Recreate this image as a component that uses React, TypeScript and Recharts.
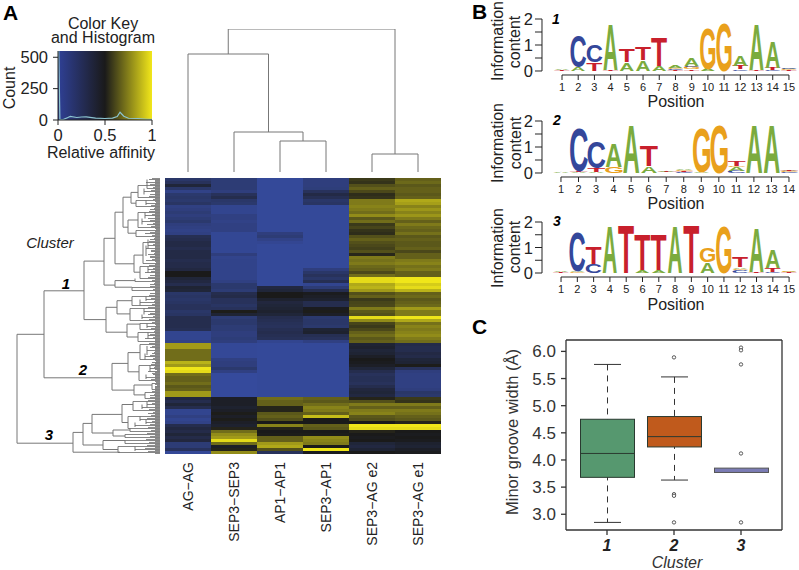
import { Bar, BarChart, Cell, ComposedChart, Line, LineChart, ReferenceArea, XAxis, YAxis } from 'recharts'

const font = '"Liberation Sans", Arial, sans-serif'
const ink = '#222'

// color key histogram
const keyBins = [0, 0.008, 0.02, 0.06, 0.1, 0.13, 0.2, 0.25, 0.3, 0.4, 0.5, 0.58, 0.63, 0.66, 0.7, 0.75, 0.85, 0.95, 1]
const keyCounts = [550, 550, 4, 5, 18, 28, 20, 24, 25, 15, 12, 15, 28, 62, 30, 14, 12, 6, 5]

// heatmap, top row first, relative affinity per row
const heatColumns = ['AG\u2212AG', 'SEP3\u2212SEP3', 'AP1\u2212AP1', 'SEP3\u2212AP1', 'SEP3\u2212AG e2', 'SEP3\u2212AG e1']
const agAg = [
  .2, .25, .38, .2, .08, .18, .2, .18, .22, .1, .12, .15, .12, .15, .18, .12, .1, .08, .1, .28, .3, .33, .33,
  .3, .33, .33, .33, .3, .32, .32, .35, .5, .5, .38, .35, .3, .4, .38, .2, .22, .2, .22, .25, .25, .2, .22,
  .3, .3, .3, .3, .28, .05, .05, .05, .08, .85, .85, .75, .75, .75, .75, .9, .85, 1, .98, .75, .72, .72, .75,
  .7, .72, .85, .85, .35, .3, .38, .3, .05, .05, .1, .05, .08, .3, .35, .32, .38, .32, .36, .15, .15, .25, .02,
]
const sep3Sep3 = [
  .15, .15, .15, .15, .12, .25, .3, .2, .18, .05, .05, .05, .1, .1, .08, .1, .1, .1, .03, .03, .03, .03, .03,
  .03, .03, .12, .06, .07, .07, .07, .07, .07, .07, .07, .1, .18, .18, .15, .3, .32, .25, .25, .22, .25, .52, .4,
  .15, .18, .18, .15, .15, .12, .12, .14, .12, .02, .02, .02, .02, .02, .1, .12, .12, .18, .1, 0, 0, 0, 0,
  0, 0, 0, 0, .45, .45, .45, .42, .45, .52, .45, .52, .45, .42, .55, .75, .82, .85, .98, .75, .45, .55, .82,
]
const ap1Ap1 = [
  .01, .01, .01, .01, .01, .01, .01, .01, .01, .01, .01, .01, .01, .01, .01, .01, .01, .01, .12, .15, .08, .04, .01,
  .01, .01, .01, .01, .01, .01, .01, .01, .01, .01, .01, .01, .01, .35, .38, .5, .5, .42, .36, .38, .4, .42, .38,
  .3, .28, .26, .25, .28, .3, .28, .26, .05, .01, .01, .01, .01, .01, .01, .01, .01, .01, .01, .01, .01, .01, .01,
  .01, .01, .01, .01, .75, .72, .72, .55, .55, .7, .72, .68, .5, .8, .55, .5, .52, .72, .72, .85, .88, .68, .25,
]
const sep3Ap1 = [
  .12, .12, .12, .13, .25, .33, .28, .2, .22, .01, .01, .01, .01, .01, .01, .01, .01, .01, .01, .01, .01, .01, .01,
  .01, .01, .01, .01, .01, .01, .01, .12, .2, .25, .2, .28, .05, .15, .3, .48, .45, .42, .3, .3, .48, .52, .45,
  .18, .2, .2, .18, .4, .42, .28, .25, .1, .01, .01, .01, .01, .01, .01, .01, .01, .01, .01, .01, .01, .01, .01,
  .01, .01, .01, .01, .72, .7, .75, .8, .78, .72, .92, .5, .5, .72, .7, .5, .52, .82, .8, .78, .5, 1, .48,
]
const sep3AgE2 = [
  .62, .6, .68, .72, .66, .58, .6, .78, .78, .8, .78, .75, .82, .7, .75, .62, .65, .6, .58, .68, .72, .68, .66,
  .64, .68, .56, .78, .76, .78, .74, .72, .66, .75, .98, .98, .88, .9, .85, .68, .72, .62, .65, .66, .78, .7, .68,
  .98, .82, .65, .62, .66, .72, .75, .7, .72, .4, .42, .38, .4, .45, .5, .48, .45, .38, .3, .25, .27, .27, .25,
  .3, .36, .38, .35, .55, .68, .78, .72, .78, .8, .7, .68, .5, 1, .98, .55, .5, .48, .5, .38, .35, .4, .5,
]
const sep3AgE1 = [
  .72, .74, .7, .72, .72, .7, .72, .88, .86, .8, .84, .8, .84, .78, .72, .78, .74, .72, .76, .7, .72, .7, .7,
  .72, .66, .72, .72, .78, .8, .76, .78, .72, .72, 1, 1, .95, .98, .9, .72, .74, .7, .72, .74, .85, .78, .78,
  1, .88, .76, .8, .78, .8, .82, .78, .75, .32, .3, .3, .34, .32, .38, .4, .52, .25, .12, .1, .1, .1, .1,
  .1, .12, .2, .18, .62, .6, .78, .72, .78, .76, .72, .7, .55, 1, .98, .5, .48, .5, .48, .42, .4, .45, .48,
]
const heatValues = [agAg, sep3Sep3, ap1Ap1, sep3Ap1, sep3AgE2, sep3AgE1]

// column dendrogram: [height, left x, right x, left child height, right child height]
const columnLinks = [
  [143, 1.375, 5, 118, 18],
  [118, 0.5, 2.25, 0, 40],
  [40, 1.5, 3, 0, 31],
  [31, 2.5, 3.5, 0, 0],
  [18, 4.5, 5.5, 0, 0],
]

// row dendrogram: [distance, top row, bottom row, top child, bottom child]
const rowLinks = [
  [17, 52.1, 88.4, 44, 73],
  [44, 37.6, 66.6, 84, 112],
  [84, 27.7, 47.2, 104, 106],
  [104, 20.1, 35.7, 115, 115],
  [115, 11.4, 28.6, 123, 134],
  [123, 6.4, 16.4, 131, 128],
  [131, 4.8, 8.4, 138, 136],
  [128, 14, 18.4, 138, 136],
  [134, 25.7, 31.4, 143, 140],
  [115, 34.2, 36.4, 135, 132],
  [106, 43.1, 51.4, 117, 127],
  [117, 40.9, 45.3, 132, 130],
  [127, 48.7, 53, 140, 138],
  [112, 61.8, 70.7, 128, 134],
  [128, 58.2, 64.6, 140, 139],
  [134, 69, 72.3, 152, 145],
  [73, 84.8, 91.4, 83, 120],
  [83, 81.8, 89, 92, 103],
  [92, 78.8, 85, 122, 113],
  [122, 75.5, 81.5, 133, 128],
  [113, 84, 86, 130, 125],
  [103, 87.5, 90.5, 125, 118],
]
const rowForks = [
  [138, 2.5, 6.5], [136, 7.5, 9.5], [138, 11.5, 16.5], [136, 17.5, 19.5], [143, 21.5, 28.5], [140, 29.5, 33.5],
  [135, 33.5, 34.5], [132, 36.5, 37.5], [132, 39.5, 42.5], [130, 43.5, 47.5], [140, 48.5, 50.5], [138, 51.5, 54.5],
  [140, 55.5, 60.5], [139, 62.5, 67.5], [152, 68.5, 70.5], [145, 71.5, 73.5], [133, 74.5, 77.5], [128, 79.5, 83.5],
  [130, 83.5, 84.5], [125, 85.5, 86.5], [125, 87.5, 88.5], [118, 89.5, 91.5],
  [147, 0.5, 3.5], [144, 3.5, 5.5], [146, 7.5, 9], [145, 11.5, 13.5], [142, 13.5, 15.5], [148, 20.5, 23.5],
  [146, 22.5, 26], [148, 29.5, 31.5], [146, 39.5, 41], [140, 40.5, 42.5], [144, 43.5, 45.5], [142, 45.5, 47],
  [147, 48.5, 50], [148, 51.5, 53.5], [147, 56, 59], [145, 58.5, 60.5], [150, 62.5, 64.5], [146, 65.5, 67],
  [147, 74.5, 76.5], [142, 75.5, 77], [140, 79.5, 81], [146, 80.5, 82], [135, 81.5, 83], [135, 89.5, 91],
]
const rowTwigs = [
  149, 146, 138, 147, 144, 150, 138, 136, 146, 136, 150, 138, 145, 148, 142, 147, 138, 136, 145, 136, 150, 143, 148,
  146, 151, 148, 150, 146, 143, 140, 148, 145, 150, 140, 135, 150, 132, 132, 150, 132, 146, 140, 132, 130, 144, 148,
  142, 130, 140, 147, 140, 138, 148, 145, 138, 140, 150, 147, 152, 145, 140, 152, 139, 150, 148, 153, 146, 139,
  152, 155, 152, 145, 150, 145, 133, 147, 142, 133, 148, 128, 140, 146, 135, 128, 130, 125, 125, 125, 125, 118, 135, 118,
]
const rowFringe = [
  152, 155, 150, 153, 151, 155, 149, 153, 156, 151, 154, 149, 152, 155, 150, 153, 151, 156, 150, 152, 154, 149, 153,
  155, 151, 154, 150, 152, 156, 149, 153, 151, 155, 148, 152, 154, 150, 153, 155, 149, 151, 154, 152, 148, 155, 150,
  153, 149, 152, 156, 151, 154, 150, 153, 155, 149, 152, 155, 154, 150, 153, 156, 151, 154, 157, 152, 155, 151,
  156, 157, 155, 152, 154, 150, 148, 152, 155, 149, 153, 151, 147, 152, 150, 148, 151, 147, 150, 146, 149, 147, 145, 148,
]

// sequence logos: letters bottom to top per position, with their bits
const logo1Letters = ['TA', 'AC', 'TC', 'TA', 'AT', 'AT', 'AT', 'TCGA', 'TGCA', 'AG', 'G', 'CTA', 'TA', 'CTA', 'TGAC']
const logo1Bits = [
  [.02, .02], [.15, 1.26], [.33, .67], [.03, 1.8], [.33, .54], [.42, .54], [.2, 1.12], [.05, .03, .03, .08],
  [.06, .08, .04, .3], [.08, 1.62], [1.94], [.07, .13, .42], [.02, 1.83], [.03, .1, 1.02], [.03, .03, .03, .02],
]
const logo2Letters = ['TA', 'ATC', 'ATC', 'GA', 'A', 'AT', 'CGTA', 'CTGA', 'AG', 'G', 'CAGT', 'A', 'A', 'CGAT']
const logo2Bits = [
  [.01, .02], [.03, .03, 1.73], [.04, .17, 1.02], [.23, .94], [1.9], [.28, .83], [.01, .01, .02, .02], [.03, .05, .05, .07],
  [.03, 1.74], [1.9], [.08, .15, .04, .18], [1.9], [1.9], [.03, .03, .03, .06],
]
const logo3Letters = ['TA', 'GAC', 'CT', 'A', 'T', 'AT', 'AT', 'A', 'T', 'AG', 'G', 'CGAT', 'TA', 'CTA', 'TAG']
const logo3Bits = [
  [.03, .02], [.03, .03, 1.6], [.35, .67], [1.9], [1.95], [.1, 1.44], [.1, 1.44], [1.9], [1.95], [.42, .56], [1.92],
  [.12, .05, .06, .4], [.02, 1.8], [.02, .16, .72], [.02, .02, .02],
]

// minor groove width box plot
const clusters = ['1', '2', '3']
const whiskerLow = [2.85, 3.63, 3.77]
const boxLow = [3.68, 4.24, 3.77]
const medians = [4.12, 4.43, 3.81]
const boxHigh = [4.75, 4.8, 3.85]
const whiskerHigh = [5.76, 5.53, 3.85]
const boxColors = ['#56986f', '#c05a1c', '#7b7cb5']
const outliers = [[], [5.89, 3.37, 3.34, 2.85], [6.07, 6.02, 5.76, 4.12, 2.85]]

const baseColors: Record<string, string> = { A: '#7bab3e', C: '#34479a', G: '#e9a01c', T: '#c8202c' }
// ink box of each bold glyph, in em: left, right
const glyphBox: Record<string, number[]> = { A: [0, 0.722], C: [0.047, 0.677], G: [0.043, 0.713], T: [0.021, 0.59] }

function affinityColor(v: number) {
  const blue = [53, 74, 156]
  const black = [26, 26, 26]
  const yellow = [240, 230, 25]
  const [a, b, t] = v < 0.5 ? [blue, black, v / 0.5] : [black, yellow, Math.pow((v - 0.5) / 0.5, 1.3)]
  const c = a.map((n, i) => Math.round(n + (b[i] - n) * t))
  return `rgb(${c[0]},${c[1]},${c[2]})`
}

const keyData = keyBins.map((x, i) => ({ x, count: keyCounts[i] }))
const heatData = agAg.map((_, row) => ({ row }))

function columnSegments() {
  const out: { x: number; y: number | null }[] = []
  columnLinks.forEach(([h, a, b, ha, hb]) => {
    out.push({ x: a, y: ha }, { x: a, y: h }, { x: b, y: h }, { x: b, y: hb }, { x: b, y: null })
  })
  return out
}

function rowSegments() {
  const out: { x: number; y: number | null }[] = []
  const brk = (x: number) => out.push({ x, y: null })
  rowLinks.forEach(([d, a, b, ca, cb]) => {
    out.push({ x: ca, y: a }, { x: d, y: a }, { x: d, y: b }, { x: cb, y: b })
    brk(cb)
  })
  rowForks.forEach(([d, a, b]) => {
    out.push({ x: d, y: a }, { x: d, y: b })
    brk(d)
  })
  return out
}

function twigSegments() {
  const out: { x: number; y: number | null }[] = []
  rowTwigs.forEach((start, r) => {
    out.push({ x: start, y: r + 0.5 }, { x: 160, y: r + 0.5 }, { x: 160, y: null })
    out.push({ x: rowFringe[r], y: r + 0.15 }, { x: 160, y: r + 0.15 }, { x: 160, y: null })
    out.push({ x: 155, y: r + 0.82 }, { x: 160, y: r + 0.82 }, { x: 160, y: null })
  })
  return out
}

function LetterShape(props: any) {
  const { x, y, width, height, letter } = props
  if (!letter || !(height > 0)) return null
  const [l, r] = glyphBox[letter]
  const sx = width / ((r - l) * 100)
  const sy = height / 72.9
  return (
    <text
      transform={`translate(${x - l * 100 * sx},${y + height}) scale(${sx},${sy})`}
      fontFamily={font}
      fontWeight="bold"
      fontSize={100}
      fill={baseColors[letter]}
    >
      {letter}
    </text>
  )
}

function LogoChart({ letters, bits, top, plotHeight, band, padLeft }: any) {
  const rows = letters.map((stack: string, i: number) => {
    const row: any = { pos: String(i + 1) }
    bits[i].forEach((h: number, j: number) => {
      row[`h${j}`] = h
      row[`l${j}`] = stack[j]
    })
    return row
  })
  const last = letters.length
  const plotWidth = padLeft + band * last
  return (
    <div style={{ position: 'absolute', left: 512, top: top - 8 }}>
      <BarChart
        width={30 + plotWidth}
        height={plotHeight + 48}
        data={rows}
        margin={{ top: 8, right: 0, bottom: 0, left: 0 }}
        barCategoryGap={0.5}
      >
        <XAxis
          dataKey="pos"
          height={40}
          interval={0}
          padding={{ left: padLeft, right: 0 }}
          axisLine={false}
          tickLine={false}
          tickSize={0}
          tickMargin={0}
          tick={(p: any) => (
            <g>
              <line x1={p.x} x2={p.x} y1={p.y + 4} y2={p.y + 9} stroke={ink} />
              {p.index < last - 1 && <line x1={p.x} x2={p.x + band} y1={p.y + 4} y2={p.y + 4} stroke={ink} />}
              <text x={p.x} y={p.y + 20} textAnchor="middle" fontSize={11} fontFamily={font} fill={ink}>
                {p.payload.value}
              </text>
            </g>
          )}
        />
        <YAxis
          width={30}
          domain={[0, 2]}
          ticks={[0, 0.5, 1, 1.5, 2]}
          interval={0}
          tickSize={7}
          tickMargin={2}
          stroke={ink}
          tick={(p: any) =>
            Number.isInteger(p.payload.value) ? (
              <text x={p.x} y={p.y + 6} textAnchor="end" fontSize={16.5} fontFamily={font} fill={ink}>
                {p.payload.value}
              </text>
            ) : (
              <g />
            )
          }
        />
        {[0, 1, 2, 3].map((j) => (
          <Bar
            key={j}
            dataKey={`h${j}`}
            stackId="logo"
            isAnimationActive={false}
            shape={(p: any) => <LetterShape {...p} letter={p.payload[`l${j}`]} />}
          />
        ))}
      </BarChart>
    </div>
  )
}

const boxData = clusters.map((cluster, i) => ({
  cluster,
  range: [whiskerLow[i], whiskerHigh[i]],
  q1: boxLow[i],
  median: medians[i],
  q3: boxHigh[i],
  fill: boxColors[i],
  o0: outliers[i][0] ?? null,
  o1: outliers[i][1] ?? null,
  o2: outliers[i][2] ?? null,
  o3: outliers[i][3] ?? null,
  o4: outliers[i][4] ?? null,
}))

function BoxShape(props: any) {
  const { x, y, width, height, payload } = props
  const [low, high] = payload.range
  const yOf = (v: number) => y + ((high - v) / (high - low)) * height
  const cx = x + width / 2
  const cap = 13.5
  const edge = '#2a3a30'
  const hasWhisker = high > payload.q3 || low < payload.q1
  const boxH = yOf(payload.q1) - yOf(payload.q3)
  return (
    <g>
      {hasWhisker && (
        <>
          <line x1={cx} x2={cx} y1={yOf(high)} y2={yOf(low)} stroke="#333" strokeDasharray="6 5" />
          <line x1={cx - cap} x2={cx + cap} y1={yOf(high)} y2={yOf(high)} stroke="#333" />
          <line x1={cx - cap} x2={cx + cap} y1={yOf(low)} y2={yOf(low)} stroke="#333" />
        </>
      )}
      <rect x={x} y={yOf(payload.q3)} width={width} height={boxH} fill={payload.fill} stroke={boxH < 6 ? '#555' : edge} />
      {boxH >= 6 && <line x1={x} x2={x + width} y1={yOf(payload.median)} y2={yOf(payload.median)} stroke={edge} />}
    </g>
  )
}

function Txt({ x, y, size = 16, rot, anchor = 'middle', weight, italic, color = ink, children }: any) {
  return (
    <text
      x={x}
      y={y}
      fontSize={size}
      fontFamily={font}
      fontWeight={weight}
      fontStyle={italic ? 'italic' : undefined}
      textAnchor={anchor}
      fill={color}
      transform={rot ? `rotate(${rot} ${x} ${y})` : undefined}
    >
      {children}
    </text>
  )
}

export default function App() {
  return (
    <div style={{ position: 'absolute', left: 0, top: 0, width: 799, height: 570, background: '#fff', overflow: 'hidden' }}>
      {/* color key */}
      <div style={{ position: 'absolute', left: 18, top: 51 }}>
        <ComposedChart width={138} height={99} data={keyData} margin={{ top: 0, right: 4, bottom: 0, left: 0 }}>
          <defs>
            <linearGradient id="keyGrad" x1="0" y1="0" x2="1" y2="0">
              <stop offset="0%" stopColor="#2f4096" />
              <stop offset="50%" stopColor="#1a1a1a" />
              <stop offset="100%" stopColor="#f2e71a" />
            </linearGradient>
          </defs>
          <XAxis
            dataKey="x"
            type="number"
            domain={[0, 1]}
            ticks={[0, 0.5, 1]}
            height={30}
            tickSize={5}
            tickMargin={4}
            interval={0}
            tick={{ fontSize: 16.5, fontFamily: font, fill: ink }}
            stroke={ink}
          />
          <YAxis
            width={40}
            domain={[0, 550]}
            ticks={[0, 250, 500]}
            interval={0}
            tickSize={5}
            tickMargin={5}
            tick={{ fontSize: 16.5, fontFamily: font, fill: ink }}
            stroke={ink}
          />
          <ReferenceArea x1={0} x2={1} y1={0} y2={550} fill="url(#keyGrad)" fillOpacity={1} stroke="none" />
          <Line dataKey="count" stroke="#8cc4d0" strokeWidth={1.2} dot={false} isAnimationActive={false} />
        </ComposedChart>
      </div>

      {/* column dendrogram */}
      <div style={{ position: 'absolute', left: 165, top: 29 }}>
        <LineChart width={276} height={143} data={columnSegments()} margin={{ top: 0, right: 0, bottom: 0, left: 0 }}>
          <XAxis dataKey="x" type="number" domain={[0, 6]} hide />
          <YAxis domain={[0, 143]} hide />
          <Line dataKey="y" stroke="#777" strokeWidth={1} dot={false} isAnimationActive={false} />
        </LineChart>
      </div>

      {/* row dendrogram */}
      <div style={{ position: 'absolute', left: 0, top: 178 }}>
        <LineChart width={160} height={276} data={rowSegments()} margin={{ top: 0, right: 0, bottom: 0, left: 0 }}>
          <XAxis dataKey="x" type="number" domain={[0, 160]} hide />
          <YAxis domain={[0, 92]} reversed hide />
          <Line dataKey="y" stroke="#777" strokeWidth={1} dot={false} isAnimationActive={false} />
        </LineChart>
      </div>
      <div style={{ position: 'absolute', left: 0, top: 178 }}>
        <LineChart width={160} height={276} data={twigSegments()} margin={{ top: 0, right: 0, bottom: 0, left: 0 }}>
          <XAxis dataKey="x" type="number" domain={[0, 160]} hide />
          <YAxis domain={[0, 92]} reversed hide />
          <Line dataKey="y" stroke="#666" strokeWidth={0.8} dot={false} isAnimationActive={false} />
        </LineChart>
      </div>

      {/* heatmap */}
      <div style={{ position: 'absolute', left: 165, top: 178 }}>
        <BarChart
          width={276}
          height={386}
          layout="vertical"
          data={heatData}
          margin={{ top: 0, right: 0, bottom: 0, left: 0 }}
          barCategoryGap={0}
        >
          <XAxis
            type="number"
            domain={[0, 6]}
            ticks={[0.5, 1.5, 2.5, 3.5, 4.5, 5.5]}
            interval={0}
            height={110}
            axisLine={false}
            tickLine={false}
            tickSize={0}
            tickMargin={0}
            tick={(p: any) => (
              <text
                x={p.x + 5}
                y={p.y + 8}
                transform={`rotate(-90 ${p.x + 5} ${p.y + 8})`}
                textAnchor="end"
                fontSize={14}
                fontFamily={font}
                fill={ink}
              >
                {heatColumns[p.index]}
              </text>
            )}
          />
          <YAxis type="category" dataKey="row" hide />
          {heatValues.map((col, c) => (
            <Bar key={c} dataKey={() => 1} stackId="heat" isAnimationActive={false}>
              {col.map((v, r) => (
                <Cell key={r} fill={affinityColor(v)} />
              ))}
            </Bar>
          ))}
        </BarChart>
      </div>

      {/* sequence logos */}
      <LogoChart letters={logo1Letters} bits={logo1Bits} top={19} plotHeight={52} band={16.21} padLeft={11.9} />
      <LogoChart letters={logo2Letters} bits={logo2Bits} top={120.7} plotHeight={52} band={17.54} padLeft={10.2} />
      <LogoChart letters={logo3Letters} bits={logo3Bits} top={222.3} plotHeight={51} band={16.29} padLeft={10.9} />

      {/* box plot */}
      <div style={{ position: 'absolute', left: 526, top: 339 }}>
        <ComposedChart width={258} height={230} data={boxData} margin={{ top: 0, right: 1, bottom: 0, left: 0 }}>
          <XAxis
            dataKey="cluster"
            height={39}
            padding={{ left: 7.5, right: 7.5 }}
            tickSize={5}
            tickMargin={5}
            interval={0}
            tick={{ fontSize: 16, fontFamily: font, fontWeight: 'bold', fontStyle: 'italic', fill: ink }}
            stroke="#333"
            strokeWidth={1.3}
          />
          <XAxis xAxisId="top" orientation="top" dataKey="cluster" height={1} tick={false} tickLine={false} stroke="#333" strokeWidth={1.3} />
          <YAxis
            width={40}
            domain={[2.71, 6.21]}
            ticks={[3, 3.5, 4, 4.5, 5, 5.5, 6]}
            interval={0}
            tickSize={5}
            tickMargin={5}
            tickFormatter={(v: number) => v.toFixed(1)}
            tick={{ fontSize: 17, fontFamily: font, fill: '#333' }}
            stroke="#333"
            strokeWidth={1.3}
          />
          <YAxis yAxisId="right" orientation="right" width={1} domain={[2.71, 6.21]} tick={false} tickLine={false} stroke="#333" strokeWidth={1.3} />
          <Bar dataKey="range" barSize={54} isAnimationActive={false} shape={(p: any) => <BoxShape {...p} />} />
          {['o0', 'o1', 'o2', 'o3', 'o4'].map((k) => (
            <Line
              key={k}
              dataKey={k}
              stroke="none"
              dot={{ r: 1.7, fill: '#fff', stroke: '#333', strokeWidth: 0.8 }}
              isAnimationActive={false}
            />
          ))}
          <Line xAxisId="top" yAxisId="right" dataKey="median" stroke="none" dot={false} isAnimationActive={false} />
        </ComposedChart>
      </div>

      {/* titles and axis captions */}
      <svg width={799} height={570} style={{ position: 'absolute', left: 0, top: 0, pointerEvents: 'none' }}>
        <Txt x={3} y={20} size={21} anchor="start" weight="bold" color="#000">A</Txt>
        <Txt x={472} y={19} size={21} anchor="start" weight="bold" color="#000">B</Txt>
        <Txt x={472} y={334} size={21} anchor="start" weight="bold" color="#000">C</Txt>
        <Txt x={103} y={29}>Color Key</Txt>
        <Txt x={103} y={43}>and Histogram</Txt>
        <Txt x={15} y={88} rot={-90}>Count</Txt>
        <Txt x={101} y={158}>Relative affinity</Txt>
        <Txt x={50} y={248} size={15} italic>Cluster</Txt>
        <Txt x={66} y={289} size={15} weight="bold" italic color="#000">1</Txt>
        <Txt x={83} y={375} size={15} weight="bold" italic color="#000">2</Txt>
        <Txt x={49} y={440} size={15} weight="bold" italic color="#000">3</Txt>

        <Txt x={503} y={41} rot={-90}>Information</Txt>
        <Txt x={520} y={42} rot={-90}>content</Txt>
        <Txt x={556} y={24} size={14} weight="bold" italic color="#000">1</Txt>
        <Txt x={676} y={107}>Position</Txt>

        <Txt x={503} y={143} rot={-90}>Information</Txt>
        <Txt x={521} y={143} rot={-90}>content</Txt>
        <Txt x={557} y={125} size={14} weight="bold" italic color="#000">2</Txt>
        <Txt x={676} y={209}>Position</Txt>

        <Txt x={503} y={248} rot={-90}>Information</Txt>
        <Txt x={520} y={247} rot={-90}>content</Txt>
        <Txt x={557} y={226} size={14} weight="bold" italic color="#000">3</Txt>
        <Txt x={676} y={310}>Position</Txt>

        <Txt x={518} y={432} size={16.5} rot={-90} color="#333">Minor groove width (Å)</Txt>
        <Txt x={677} y={568} size={16} italic color="#333">Cluster</Txt>
      </svg>
    </div>
  )
}
